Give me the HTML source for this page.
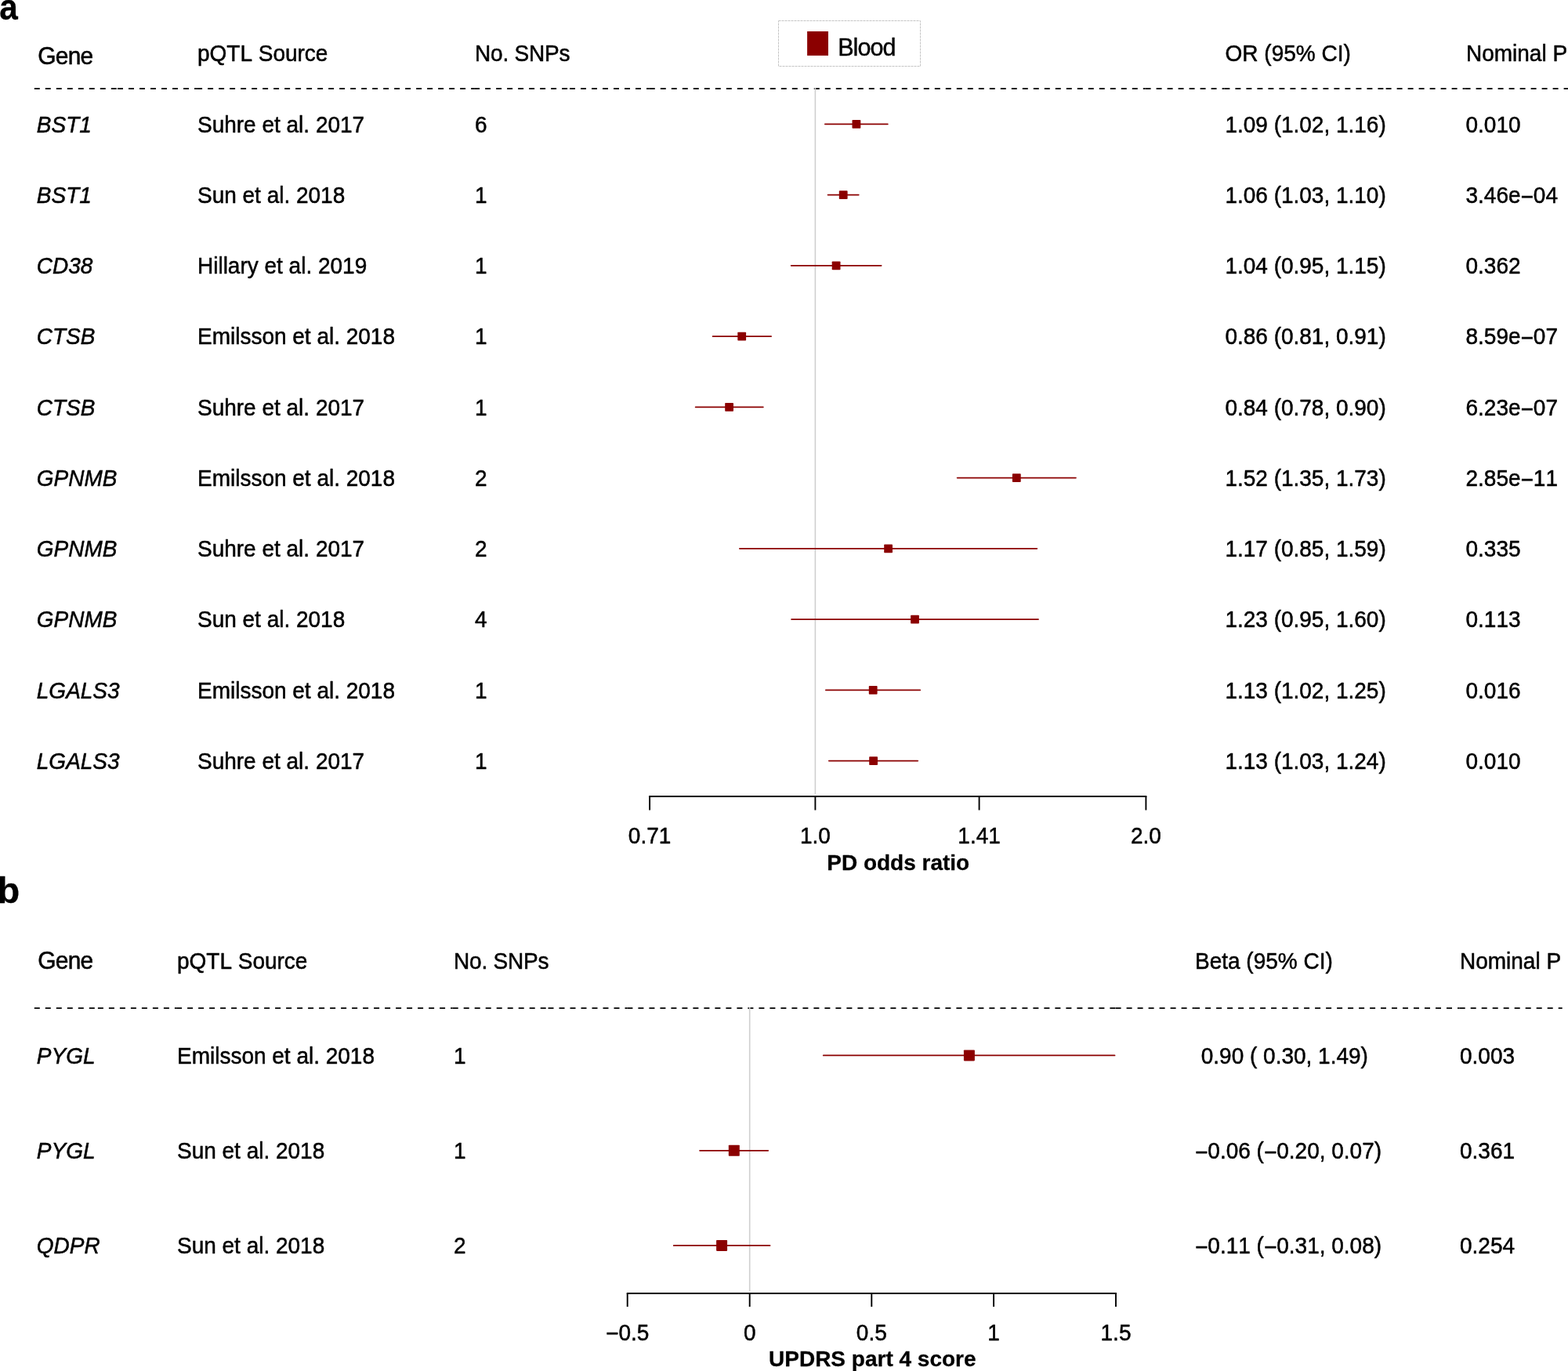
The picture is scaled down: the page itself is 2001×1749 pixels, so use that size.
<!DOCTYPE html>
<html lang="en"><head><meta charset="utf-8"><title>Forest plot</title>
<style>
html,body{margin:0;padding:0;background:#fff;}
body{width:2001px;height:1749px;overflow:hidden;}
svg{display:block;}
text{font-family:"Liberation Sans",Arial,Helvetica,sans-serif;fill:#000;font-kerning:none;white-space:pre;}
</style></head><body>
<svg width="2001" height="1749" viewBox="0 0 2001 1749">
<rect x="0" y="0" width="2001" height="1749" fill="#ffffff"/>
<text transform="translate(-0.8 25) scale(0.9 1)" font-size="47" text-anchor="start" font-weight="bold" font-style="normal" stroke="#000" stroke-width="0.3" stroke-linejoin="round" >a</text>
<text transform="translate(48.3 82.3) scale(1 1.04)" font-size="30" text-anchor="start" font-weight="normal" font-style="normal" stroke="#000" stroke-width="0.5" stroke-linejoin="round" letter-spacing="-0.8">Gene</text>
<text transform="translate(252 78) scale(1 1.04)" font-size="28" text-anchor="start" font-weight="normal" font-style="normal" stroke="#000" stroke-width="0.5" stroke-linejoin="round" >pQTL Source</text>
<text transform="translate(606 78) scale(1 1.04)" font-size="28" text-anchor="start" font-weight="normal" font-style="normal" stroke="#000" stroke-width="0.5" stroke-linejoin="round" letter-spacing="-0.18">No. SNPs</text>
<text transform="translate(1563.6 78) scale(1 1.04)" font-size="28" text-anchor="start" font-weight="normal" font-style="normal" stroke="#000" stroke-width="0.5" stroke-linejoin="round" >OR (95% CI)</text>
<text transform="translate(1871 78) scale(1 1.04)" font-size="28" text-anchor="start" font-weight="normal" font-style="normal" stroke="#000" stroke-width="0.5" stroke-linejoin="round" >Nominal P</text>
<rect x="993.5" y="26.5" width="181" height="58" fill="none" stroke="#c4c4c4" stroke-width="1" stroke-dasharray="3 1"/>
<rect x="1030.1" y="40" width="26.9" height="30.9" fill="#8b0000" />
<text transform="translate(1069.2 70.6) scale(1 1.02)" font-size="30.6" text-anchor="start" font-weight="normal" font-style="normal" stroke="#000" stroke-width="0.4" stroke-linejoin="round" letter-spacing="-1.0">Blood</text>
<line x1="43.8" y1="113.1" x2="150" y2="113.1" stroke="#000" stroke-width="1.7" stroke-dasharray="7 7"/>
<line x1="150" y1="113.1" x2="251.1" y2="113.1" stroke="#000" stroke-width="1.7" stroke-dasharray="7 7"/>
<line x1="251.1" y1="113.1" x2="605.1" y2="113.1" stroke="#000" stroke-width="1.7" stroke-dasharray="7 7"/>
<line x1="605.1" y1="113.1" x2="727" y2="113.1" stroke="#000" stroke-width="1.7" stroke-dasharray="7 7"/>
<line x1="727" y1="113.1" x2="828.8" y2="113.1" stroke="#000" stroke-width="1.7" stroke-dasharray="7 7"/>
<line x1="828.8" y1="113.1" x2="1461.6" y2="113.1" stroke="#000" stroke-width="1.7" stroke-dasharray="7 7"/>
<line x1="1461.6" y1="113.1" x2="1562.4" y2="113.1" stroke="#000" stroke-width="1.7" stroke-dasharray="7 7"/>
<line x1="1562.4" y1="113.1" x2="1768.6" y2="113.1" stroke="#000" stroke-width="1.7" stroke-dasharray="7 7"/>
<line x1="1768.6" y1="113.1" x2="1869.6" y2="113.1" stroke="#000" stroke-width="1.7" stroke-dasharray="7 7"/>
<line x1="1869.6" y1="113.1" x2="2003" y2="113.1" stroke="#000" stroke-width="1.7" stroke-dasharray="7 7"/>
<line x1="1040.4" y1="112" x2="1040.4" y2="1013.5" stroke="#cfcfcf" stroke-width="1.6" />
<text transform="translate(46.8 168.5) scale(1 1.04)" font-size="28" text-anchor="start" font-weight="normal" font-style="italic" stroke="#000" stroke-width="0.5" stroke-linejoin="round" >BST1</text>
<text transform="translate(252 168.5) scale(1 1.04)" font-size="28" text-anchor="start" font-weight="normal" font-style="normal" stroke="#000" stroke-width="0.5" stroke-linejoin="round" >Suhre et al. 2017</text>
<text transform="translate(606 168.5) scale(1 1.04)" font-size="28" text-anchor="start" font-weight="normal" font-style="normal" stroke="#000" stroke-width="0.5" stroke-linejoin="round" >6</text>
<text transform="translate(1563.4 168.5) scale(1 1.04)" font-size="28" text-anchor="start" font-weight="normal" font-style="normal" stroke="#000" stroke-width="0.5" stroke-linejoin="round" >1.09 (1.02, 1.16)</text>
<text transform="translate(1870.5 168.5) scale(1 1.04)" font-size="28" text-anchor="start" font-weight="normal" font-style="normal" stroke="#000" stroke-width="0.5" stroke-linejoin="round" >0.010</text>
<line x1="1052.9" y1="158.3" x2="1132.8" y2="158.3" stroke="#8b0000" stroke-width="1.85" stroke-linecap="round"/>
<rect x="1087.5" y="152.9" width="10.8" height="10.8" fill="#8b0000" rx="0.8"/>
<text transform="translate(46.8 258.76) scale(1 1.04)" font-size="28" text-anchor="start" font-weight="normal" font-style="italic" stroke="#000" stroke-width="0.5" stroke-linejoin="round" >BST1</text>
<text transform="translate(252 258.76) scale(1 1.04)" font-size="28" text-anchor="start" font-weight="normal" font-style="normal" stroke="#000" stroke-width="0.5" stroke-linejoin="round" >Sun et al. 2018</text>
<text transform="translate(606 258.76) scale(1 1.04)" font-size="28" text-anchor="start" font-weight="normal" font-style="normal" stroke="#000" stroke-width="0.5" stroke-linejoin="round" >1</text>
<text transform="translate(1563.4 258.76) scale(1 1.04)" font-size="28" text-anchor="start" font-weight="normal" font-style="normal" stroke="#000" stroke-width="0.5" stroke-linejoin="round" >1.06 (1.03, 1.10)</text>
<text transform="translate(1870.5 258.76) scale(1 1.04)" font-size="28" text-anchor="start" font-weight="normal" font-style="normal" stroke="#000" stroke-width="0.5" stroke-linejoin="round" >3.46e<tspan dy="1.9">−</tspan><tspan dy="-1.9">04</tspan></text>
<line x1="1056.6" y1="248.56" x2="1095.7" y2="248.56" stroke="#8b0000" stroke-width="1.85" stroke-linecap="round"/>
<rect x="1070.8" y="243.2" width="10.8" height="10.8" fill="#8b0000" rx="0.8"/>
<text transform="translate(46.8 349.01) scale(1 1.04)" font-size="28" text-anchor="start" font-weight="normal" font-style="italic" stroke="#000" stroke-width="0.5" stroke-linejoin="round" >CD38</text>
<text transform="translate(252 349.01) scale(1 1.04)" font-size="28" text-anchor="start" font-weight="normal" font-style="normal" stroke="#000" stroke-width="0.5" stroke-linejoin="round" >Hillary et al. 2019</text>
<text transform="translate(606 349.01) scale(1 1.04)" font-size="28" text-anchor="start" font-weight="normal" font-style="normal" stroke="#000" stroke-width="0.5" stroke-linejoin="round" >1</text>
<text transform="translate(1563.4 349.01) scale(1 1.04)" font-size="28" text-anchor="start" font-weight="normal" font-style="normal" stroke="#000" stroke-width="0.5" stroke-linejoin="round" >1.04 (0.95, 1.15)</text>
<text transform="translate(1870.5 349.01) scale(1 1.04)" font-size="28" text-anchor="start" font-weight="normal" font-style="normal" stroke="#000" stroke-width="0.5" stroke-linejoin="round" >0.362</text>
<line x1="1009.7" y1="338.81" x2="1124.6" y2="338.81" stroke="#8b0000" stroke-width="1.85" stroke-linecap="round"/>
<rect x="1061.7" y="333.4" width="10.8" height="10.8" fill="#8b0000" rx="0.8"/>
<text transform="translate(46.8 439.26) scale(1 1.04)" font-size="28" text-anchor="start" font-weight="normal" font-style="italic" stroke="#000" stroke-width="0.5" stroke-linejoin="round" >CTSB</text>
<text transform="translate(252 439.26) scale(1 1.04)" font-size="28" text-anchor="start" font-weight="normal" font-style="normal" stroke="#000" stroke-width="0.5" stroke-linejoin="round" >Emilsson et al. 2018</text>
<text transform="translate(606 439.26) scale(1 1.04)" font-size="28" text-anchor="start" font-weight="normal" font-style="normal" stroke="#000" stroke-width="0.5" stroke-linejoin="round" >1</text>
<text transform="translate(1563.4 439.26) scale(1 1.04)" font-size="28" text-anchor="start" font-weight="normal" font-style="normal" stroke="#000" stroke-width="0.5" stroke-linejoin="round" >0.86 (0.81, 0.91)</text>
<text transform="translate(1870.5 439.26) scale(1 1.04)" font-size="28" text-anchor="start" font-weight="normal" font-style="normal" stroke="#000" stroke-width="0.5" stroke-linejoin="round" >8.59e<tspan dy="1.9">−</tspan><tspan dy="-1.9">07</tspan></text>
<line x1="909.6" y1="429.06" x2="984.1" y2="429.06" stroke="#8b0000" stroke-width="1.85" stroke-linecap="round"/>
<rect x="941.3" y="423.7" width="10.8" height="10.8" fill="#8b0000" rx="0.8"/>
<text transform="translate(46.8 529.52) scale(1 1.04)" font-size="28" text-anchor="start" font-weight="normal" font-style="italic" stroke="#000" stroke-width="0.5" stroke-linejoin="round" >CTSB</text>
<text transform="translate(252 529.52) scale(1 1.04)" font-size="28" text-anchor="start" font-weight="normal" font-style="normal" stroke="#000" stroke-width="0.5" stroke-linejoin="round" >Suhre et al. 2017</text>
<text transform="translate(606 529.52) scale(1 1.04)" font-size="28" text-anchor="start" font-weight="normal" font-style="normal" stroke="#000" stroke-width="0.5" stroke-linejoin="round" >1</text>
<text transform="translate(1563.4 529.52) scale(1 1.04)" font-size="28" text-anchor="start" font-weight="normal" font-style="normal" stroke="#000" stroke-width="0.5" stroke-linejoin="round" >0.84 (0.78, 0.90)</text>
<text transform="translate(1870.5 529.52) scale(1 1.04)" font-size="28" text-anchor="start" font-weight="normal" font-style="normal" stroke="#000" stroke-width="0.5" stroke-linejoin="round" >6.23e<tspan dy="1.9">−</tspan><tspan dy="-1.9">07</tspan></text>
<line x1="887.7" y1="519.32" x2="973.8" y2="519.32" stroke="#8b0000" stroke-width="1.85" stroke-linecap="round"/>
<rect x="925.2" y="513.9" width="10.8" height="10.8" fill="#8b0000" rx="0.8"/>
<text transform="translate(46.8 619.78) scale(1 1.04)" font-size="28" text-anchor="start" font-weight="normal" font-style="italic" stroke="#000" stroke-width="0.5" stroke-linejoin="round" >GPNMB</text>
<text transform="translate(252 619.78) scale(1 1.04)" font-size="28" text-anchor="start" font-weight="normal" font-style="normal" stroke="#000" stroke-width="0.5" stroke-linejoin="round" >Emilsson et al. 2018</text>
<text transform="translate(606 619.78) scale(1 1.04)" font-size="28" text-anchor="start" font-weight="normal" font-style="normal" stroke="#000" stroke-width="0.5" stroke-linejoin="round" >2</text>
<text transform="translate(1563.4 619.78) scale(1 1.04)" font-size="28" text-anchor="start" font-weight="normal" font-style="normal" stroke="#000" stroke-width="0.5" stroke-linejoin="round" >1.52 (1.35, 1.73)</text>
<text transform="translate(1870.5 619.78) scale(1 1.04)" font-size="28" text-anchor="start" font-weight="normal" font-style="normal" stroke="#000" stroke-width="0.5" stroke-linejoin="round" >2.85e<tspan dy="1.9">−</tspan><tspan dy="-1.9">11</tspan></text>
<line x1="1221.7" y1="609.58" x2="1372.9" y2="609.58" stroke="#8b0000" stroke-width="1.85" stroke-linecap="round"/>
<rect x="1291.9" y="604.2" width="10.8" height="10.8" fill="#8b0000" rx="0.8"/>
<text transform="translate(46.8 710.03) scale(1 1.04)" font-size="28" text-anchor="start" font-weight="normal" font-style="italic" stroke="#000" stroke-width="0.5" stroke-linejoin="round" >GPNMB</text>
<text transform="translate(252 710.03) scale(1 1.04)" font-size="28" text-anchor="start" font-weight="normal" font-style="normal" stroke="#000" stroke-width="0.5" stroke-linejoin="round" >Suhre et al. 2017</text>
<text transform="translate(606 710.03) scale(1 1.04)" font-size="28" text-anchor="start" font-weight="normal" font-style="normal" stroke="#000" stroke-width="0.5" stroke-linejoin="round" >2</text>
<text transform="translate(1563.4 710.03) scale(1 1.04)" font-size="28" text-anchor="start" font-weight="normal" font-style="normal" stroke="#000" stroke-width="0.5" stroke-linejoin="round" >1.17 (0.85, 1.59)</text>
<text transform="translate(1870.5 710.03) scale(1 1.04)" font-size="28" text-anchor="start" font-weight="normal" font-style="normal" stroke="#000" stroke-width="0.5" stroke-linejoin="round" >0.335</text>
<line x1="943.9" y1="699.83" x2="1323.3" y2="699.83" stroke="#8b0000" stroke-width="1.85" stroke-linecap="round"/>
<rect x="1128.2" y="694.4" width="10.8" height="10.8" fill="#8b0000" rx="0.8"/>
<text transform="translate(46.8 800.29) scale(1 1.04)" font-size="28" text-anchor="start" font-weight="normal" font-style="italic" stroke="#000" stroke-width="0.5" stroke-linejoin="round" >GPNMB</text>
<text transform="translate(252 800.29) scale(1 1.04)" font-size="28" text-anchor="start" font-weight="normal" font-style="normal" stroke="#000" stroke-width="0.5" stroke-linejoin="round" >Sun et al. 2018</text>
<text transform="translate(606 800.29) scale(1 1.04)" font-size="28" text-anchor="start" font-weight="normal" font-style="normal" stroke="#000" stroke-width="0.5" stroke-linejoin="round" >4</text>
<text transform="translate(1563.4 800.29) scale(1 1.04)" font-size="28" text-anchor="start" font-weight="normal" font-style="normal" stroke="#000" stroke-width="0.5" stroke-linejoin="round" >1.23 (0.95, 1.60)</text>
<text transform="translate(1870.5 800.29) scale(1 1.04)" font-size="28" text-anchor="start" font-weight="normal" font-style="normal" stroke="#000" stroke-width="0.5" stroke-linejoin="round" >0.113</text>
<line x1="1010.1" y1="790.09" x2="1325.0" y2="790.09" stroke="#8b0000" stroke-width="1.85" stroke-linecap="round"/>
<rect x="1162.1" y="784.7" width="10.8" height="10.8" fill="#8b0000" rx="0.8"/>
<text transform="translate(46.8 890.54) scale(1 1.04)" font-size="28" text-anchor="start" font-weight="normal" font-style="italic" stroke="#000" stroke-width="0.5" stroke-linejoin="round" >LGALS3</text>
<text transform="translate(252 890.54) scale(1 1.04)" font-size="28" text-anchor="start" font-weight="normal" font-style="normal" stroke="#000" stroke-width="0.5" stroke-linejoin="round" >Emilsson et al. 2018</text>
<text transform="translate(606 890.54) scale(1 1.04)" font-size="28" text-anchor="start" font-weight="normal" font-style="normal" stroke="#000" stroke-width="0.5" stroke-linejoin="round" >1</text>
<text transform="translate(1563.4 890.54) scale(1 1.04)" font-size="28" text-anchor="start" font-weight="normal" font-style="normal" stroke="#000" stroke-width="0.5" stroke-linejoin="round" >1.13 (1.02, 1.25)</text>
<text transform="translate(1870.5 890.54) scale(1 1.04)" font-size="28" text-anchor="start" font-weight="normal" font-style="normal" stroke="#000" stroke-width="0.5" stroke-linejoin="round" >0.016</text>
<line x1="1053.9" y1="880.34" x2="1174.2" y2="880.34" stroke="#8b0000" stroke-width="1.85" stroke-linecap="round"/>
<rect x="1108.8" y="874.9" width="10.8" height="10.8" fill="#8b0000" rx="0.8"/>
<text transform="translate(46.8 980.8) scale(1 1.04)" font-size="28" text-anchor="start" font-weight="normal" font-style="italic" stroke="#000" stroke-width="0.5" stroke-linejoin="round" >LGALS3</text>
<text transform="translate(252 980.8) scale(1 1.04)" font-size="28" text-anchor="start" font-weight="normal" font-style="normal" stroke="#000" stroke-width="0.5" stroke-linejoin="round" >Suhre et al. 2017</text>
<text transform="translate(606 980.8) scale(1 1.04)" font-size="28" text-anchor="start" font-weight="normal" font-style="normal" stroke="#000" stroke-width="0.5" stroke-linejoin="round" >1</text>
<text transform="translate(1563.4 980.8) scale(1 1.04)" font-size="28" text-anchor="start" font-weight="normal" font-style="normal" stroke="#000" stroke-width="0.5" stroke-linejoin="round" >1.13 (1.03, 1.24)</text>
<text transform="translate(1870.5 980.8) scale(1 1.04)" font-size="28" text-anchor="start" font-weight="normal" font-style="normal" stroke="#000" stroke-width="0.5" stroke-linejoin="round" >0.010</text>
<line x1="1057.9" y1="970.6" x2="1171.2" y2="970.6" stroke="#8b0000" stroke-width="1.85" stroke-linecap="round"/>
<rect x="1109.2" y="965.2" width="10.8" height="10.8" fill="#8b0000" rx="0.8"/>
<line x1="828.15" y1="1016" x2="1463.3500000000001" y2="1016" stroke="#000" stroke-width="1.9" />
<line x1="829.1" y1="1016" x2="829.1" y2="1033.5" stroke="#000" stroke-width="1.9" />
<text transform="translate(829.1 1076.3) scale(1 1.04)" font-size="28" text-anchor="middle" font-weight="normal" font-style="normal" stroke="#000" stroke-width="0.5" stroke-linejoin="round" >0.71</text>
<line x1="1040.4" y1="1016" x2="1040.4" y2="1033.5" stroke="#000" stroke-width="1.9" />
<text transform="translate(1040.4 1076.3) scale(1 1.04)" font-size="28" text-anchor="middle" font-weight="normal" font-style="normal" stroke="#000" stroke-width="0.5" stroke-linejoin="round" >1.0</text>
<line x1="1249.6" y1="1016" x2="1249.6" y2="1033.5" stroke="#000" stroke-width="1.9" />
<text transform="translate(1249.6 1076.3) scale(1 1.04)" font-size="28" text-anchor="middle" font-weight="normal" font-style="normal" stroke="#000" stroke-width="0.5" stroke-linejoin="round" >1.41</text>
<line x1="1462.4" y1="1016" x2="1462.4" y2="1033.5" stroke="#000" stroke-width="1.9" />
<text transform="translate(1462.4 1076.3) scale(1 1.04)" font-size="28" text-anchor="middle" font-weight="normal" font-style="normal" stroke="#000" stroke-width="0.5" stroke-linejoin="round" >2.0</text>
<text transform="translate(1146.2 1109.8) scale(1 1.0)" font-size="28" text-anchor="middle" font-weight="bold" font-style="normal" stroke="#000" stroke-width="0.3" stroke-linejoin="round" >PD odds ratio</text>
<text transform="translate(-3.6 1151.5) scale(1 1)" font-size="47" text-anchor="start" font-weight="bold" font-style="normal" stroke="#000" stroke-width="0.3" stroke-linejoin="round" >b</text>
<text transform="translate(48.3 1235.8) scale(1 1.04)" font-size="30" text-anchor="start" font-weight="normal" font-style="normal" stroke="#000" stroke-width="0.5" stroke-linejoin="round" letter-spacing="-0.8">Gene</text>
<text transform="translate(226 1235.5) scale(1 1.04)" font-size="28" text-anchor="start" font-weight="normal" font-style="normal" stroke="#000" stroke-width="0.5" stroke-linejoin="round" >pQTL Source</text>
<text transform="translate(579 1235.5) scale(1 1.04)" font-size="28" text-anchor="start" font-weight="normal" font-style="normal" stroke="#000" stroke-width="0.5" stroke-linejoin="round" letter-spacing="-0.18">No. SNPs</text>
<text transform="translate(1525 1235.5) scale(1 1.04)" font-size="28" text-anchor="start" font-weight="normal" font-style="normal" stroke="#000" stroke-width="0.5" stroke-linejoin="round" >Beta (95% CI)</text>
<text transform="translate(1863 1235.5) scale(1 1.04)" font-size="28" text-anchor="start" font-weight="normal" font-style="normal" stroke="#000" stroke-width="0.5" stroke-linejoin="round" >Nominal P</text>
<line x1="43.8" y1="1286.05" x2="124.9" y2="1286.05" stroke="#000" stroke-width="1.7" stroke-dasharray="7 7"/>
<line x1="124.9" y1="1286.05" x2="225.1" y2="1286.05" stroke="#000" stroke-width="1.7" stroke-dasharray="7 7"/>
<line x1="225.1" y1="1286.05" x2="577.7" y2="1286.05" stroke="#000" stroke-width="1.7" stroke-dasharray="7 7"/>
<line x1="577.7" y1="1286.05" x2="699.5" y2="1286.05" stroke="#000" stroke-width="1.7" stroke-dasharray="7 7"/>
<line x1="699.5" y1="1286.05" x2="800.4" y2="1286.05" stroke="#000" stroke-width="1.7" stroke-dasharray="7 7"/>
<line x1="800.4" y1="1286.05" x2="1423.6" y2="1286.05" stroke="#000" stroke-width="1.7" stroke-dasharray="7 7"/>
<line x1="1423.6" y1="1286.05" x2="1524.1" y2="1286.05" stroke="#000" stroke-width="1.7" stroke-dasharray="7 7"/>
<line x1="1524.1" y1="1286.05" x2="1762" y2="1286.05" stroke="#000" stroke-width="1.7" stroke-dasharray="7 7"/>
<line x1="1762" y1="1286.05" x2="1862.7" y2="1286.05" stroke="#000" stroke-width="1.7" stroke-dasharray="7 7"/>
<line x1="1862.7" y1="1286.05" x2="1993.7" y2="1286.05" stroke="#000" stroke-width="1.7" stroke-dasharray="7 7"/>
<line x1="956.7" y1="1285" x2="956.7" y2="1647.5" stroke="#cfcfcf" stroke-width="1.6" />
<text transform="translate(46.8 1356.6) scale(1 1.04)" font-size="28" text-anchor="start" font-weight="normal" font-style="italic" stroke="#000" stroke-width="0.5" stroke-linejoin="round" >PYGL</text>
<text transform="translate(226 1356.6) scale(1 1.04)" font-size="28" text-anchor="start" font-weight="normal" font-style="normal" stroke="#000" stroke-width="0.5" stroke-linejoin="round" >Emilsson et al. 2018</text>
<text transform="translate(579 1356.6) scale(1 1.04)" font-size="28" text-anchor="start" font-weight="normal" font-style="normal" stroke="#000" stroke-width="0.5" stroke-linejoin="round" >1</text>
<text transform="translate(1525 1356.6) scale(1 1.04)" font-size="28" text-anchor="start" font-weight="normal" font-style="normal" stroke="#000" stroke-width="0.5" stroke-linejoin="round" xml:space="preserve"> 0.90 ( 0.30, 1.49)</text>
<text transform="translate(1863 1356.6) scale(1 1.04)" font-size="28" text-anchor="start" font-weight="normal" font-style="normal" stroke="#000" stroke-width="0.5" stroke-linejoin="round" >0.003</text>
<line x1="1050.8" y1="1346.4" x2="1422.5" y2="1346.4" stroke="#8b0000" stroke-width="1.85" stroke-linecap="round"/>
<rect x="1229.9" y="1339.4" width="14" height="14" fill="#8b0000" rx="0.8"/>
<text transform="translate(46.8 1478.0) scale(1 1.04)" font-size="28" text-anchor="start" font-weight="normal" font-style="italic" stroke="#000" stroke-width="0.5" stroke-linejoin="round" >PYGL</text>
<text transform="translate(226 1478.0) scale(1 1.04)" font-size="28" text-anchor="start" font-weight="normal" font-style="normal" stroke="#000" stroke-width="0.5" stroke-linejoin="round" >Sun et al. 2018</text>
<text transform="translate(579 1478.0) scale(1 1.04)" font-size="28" text-anchor="start" font-weight="normal" font-style="normal" stroke="#000" stroke-width="0.5" stroke-linejoin="round" >1</text>
<text transform="translate(1525 1478.0) scale(1 1.04)" font-size="28" text-anchor="start" font-weight="normal" font-style="normal" stroke="#000" stroke-width="0.5" stroke-linejoin="round" xml:space="preserve"><tspan dy="1.9">−</tspan><tspan dy="-1.9">0.06 (</tspan><tspan dy="1.9">−</tspan><tspan dy="-1.9">0.20, 0.07)</tspan></text>
<text transform="translate(1863 1478.0) scale(1 1.04)" font-size="28" text-anchor="start" font-weight="normal" font-style="normal" stroke="#000" stroke-width="0.5" stroke-linejoin="round" >0.361</text>
<line x1="893.1" y1="1467.8" x2="980.2" y2="1467.8" stroke="#8b0000" stroke-width="1.85" stroke-linecap="round"/>
<rect x="929.8" y="1460.8" width="14" height="14" fill="#8b0000" rx="0.8"/>
<text transform="translate(46.8 1599.1) scale(1 1.04)" font-size="28" text-anchor="start" font-weight="normal" font-style="italic" stroke="#000" stroke-width="0.5" stroke-linejoin="round" >QDPR</text>
<text transform="translate(226 1599.1) scale(1 1.04)" font-size="28" text-anchor="start" font-weight="normal" font-style="normal" stroke="#000" stroke-width="0.5" stroke-linejoin="round" >Sun et al. 2018</text>
<text transform="translate(579 1599.1) scale(1 1.04)" font-size="28" text-anchor="start" font-weight="normal" font-style="normal" stroke="#000" stroke-width="0.5" stroke-linejoin="round" >2</text>
<text transform="translate(1525 1599.1) scale(1 1.04)" font-size="28" text-anchor="start" font-weight="normal" font-style="normal" stroke="#000" stroke-width="0.5" stroke-linejoin="round" xml:space="preserve"><tspan dy="1.9">−</tspan><tspan dy="-1.9">0.11 (</tspan><tspan dy="1.9">−</tspan><tspan dy="-1.9">0.31, 0.08)</tspan></text>
<text transform="translate(1863 1599.1) scale(1 1.04)" font-size="28" text-anchor="start" font-weight="normal" font-style="normal" stroke="#000" stroke-width="0.5" stroke-linejoin="round" >0.254</text>
<line x1="859.8" y1="1588.9" x2="982.5" y2="1588.9" stroke="#8b0000" stroke-width="1.85" stroke-linecap="round"/>
<rect x="914.1" y="1581.9" width="14" height="14" fill="#8b0000" rx="0.8"/>
<line x1="799.75" y1="1650" x2="1424.95" y2="1650" stroke="#000" stroke-width="1.9" />
<line x1="800.7" y1="1650" x2="800.7" y2="1667" stroke="#000" stroke-width="1.9" />
<text transform="translate(800.7 1709.5) scale(1 1.04)" font-size="28" text-anchor="middle" font-weight="normal" font-style="normal" stroke="#000" stroke-width="0.5" stroke-linejoin="round" ><tspan dy="1.9">−</tspan><tspan dy="-1.9">0.5</tspan></text>
<line x1="956.7" y1="1650" x2="956.7" y2="1667" stroke="#000" stroke-width="1.9" />
<text transform="translate(956.7 1709.5) scale(1 1.04)" font-size="28" text-anchor="middle" font-weight="normal" font-style="normal" stroke="#000" stroke-width="0.5" stroke-linejoin="round" >0</text>
<line x1="1112.3" y1="1650" x2="1112.3" y2="1667" stroke="#000" stroke-width="1.9" />
<text transform="translate(1112.3 1709.5) scale(1 1.04)" font-size="28" text-anchor="middle" font-weight="normal" font-style="normal" stroke="#000" stroke-width="0.5" stroke-linejoin="round" >0.5</text>
<line x1="1268.1" y1="1650" x2="1268.1" y2="1667" stroke="#000" stroke-width="1.9" />
<text transform="translate(1268.1 1709.5) scale(1 1.04)" font-size="28" text-anchor="middle" font-weight="normal" font-style="normal" stroke="#000" stroke-width="0.5" stroke-linejoin="round" >1</text>
<line x1="1424" y1="1650" x2="1424" y2="1667" stroke="#000" stroke-width="1.9" />
<text transform="translate(1424 1709.5) scale(1 1.04)" font-size="28" text-anchor="middle" font-weight="normal" font-style="normal" stroke="#000" stroke-width="0.5" stroke-linejoin="round" >1.5</text>
<text transform="translate(1113.3 1743.3) scale(1 1.0)" font-size="28" text-anchor="middle" font-weight="bold" font-style="normal" stroke="#000" stroke-width="0.3" stroke-linejoin="round" >UPDRS part 4 score</text>
</svg>
</body></html>
